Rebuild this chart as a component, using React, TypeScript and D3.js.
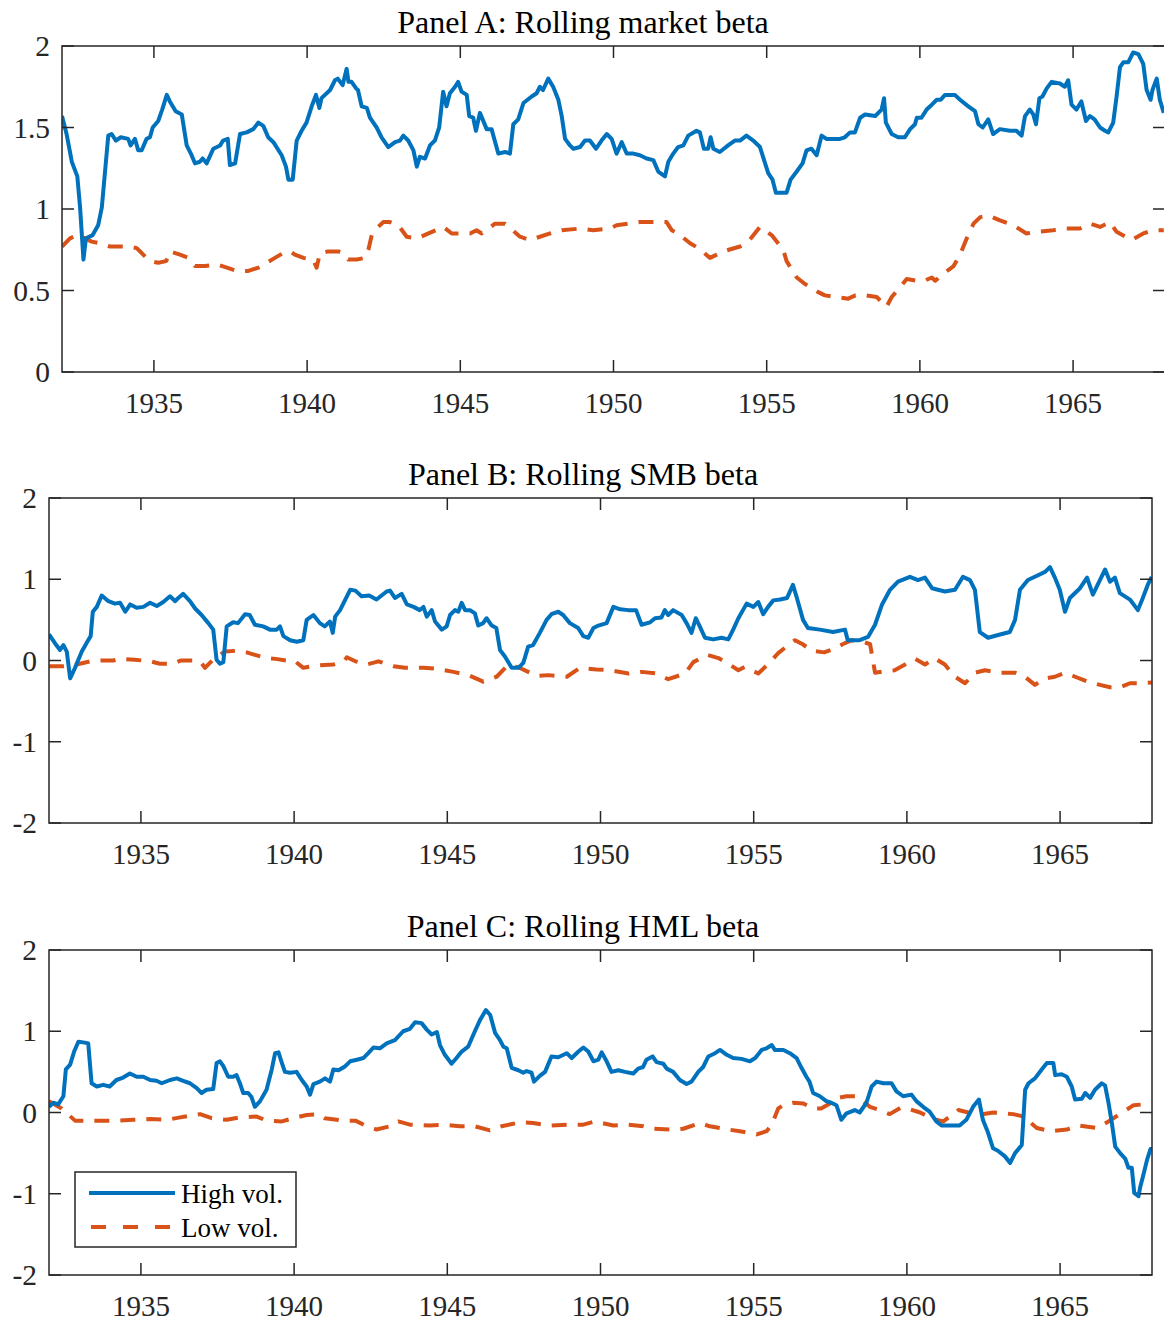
import React from 'react';
import * as d3 from 'd3';

type Pt = [number, number];

// ---- data (year, beta) ----
const xTicks = [1935, 1940, 1945, 1950, 1955, 1960, 1965];
const mktTicks = [0, 0.5, 1, 1.5, 2];
const factorTicks = [-2, -1, 0, 1, 2];
const panelTitles = ['Panel A: Rolling market beta', 'Panel B: Rolling SMB beta', 'Panel C: Rolling HML beta'];
const legendLabels = ['High vol.', 'Low vol.'];

const mktHigh: Pt[] = [
  [1932.0, 1.57], [1932.15, 1.46], [1932.32, 1.29], [1932.5, 1.2], [1932.59, 1.01], [1932.7, 0.69], [1932.78, 0.82],
  [1933.0, 0.84], [1933.18, 0.9], [1933.3, 1.01], [1933.4, 1.22], [1933.51, 1.45], [1933.62, 1.46], [1933.76, 1.42],
  [1933.92, 1.44], [1934.16, 1.43], [1934.24, 1.39], [1934.38, 1.43], [1934.49, 1.36], [1934.6, 1.36], [1934.76, 1.43],
  [1934.87, 1.44], [1934.96, 1.5], [1935.14, 1.54], [1935.27, 1.61], [1935.42, 1.7], [1935.52, 1.66], [1935.71, 1.6],
  [1935.91, 1.58], [1936.07, 1.39], [1936.23, 1.33], [1936.34, 1.28], [1936.5, 1.29], [1936.59, 1.31], [1936.72, 1.28],
  [1936.94, 1.37], [1937.16, 1.39], [1937.26, 1.42], [1937.41, 1.43], [1937.48, 1.27], [1937.65, 1.28], [1937.81, 1.46],
  [1938.03, 1.47], [1938.24, 1.49], [1938.41, 1.53], [1938.57, 1.51], [1938.73, 1.44], [1938.9, 1.41], [1939.17, 1.33],
  [1939.31, 1.26], [1939.39, 1.18], [1939.53, 1.18], [1939.66, 1.42], [1939.82, 1.48], [1939.98, 1.53], [1940.15, 1.63],
  [1940.29, 1.7], [1940.4, 1.62], [1940.47, 1.68], [1940.75, 1.73], [1940.91, 1.79], [1941.0, 1.8], [1941.16, 1.76],
  [1941.29, 1.86], [1941.35, 1.78], [1941.45, 1.78], [1941.6, 1.74], [1941.66, 1.73], [1941.78, 1.63], [1941.95, 1.62],
  [1942.05, 1.56], [1942.27, 1.5], [1942.43, 1.44], [1942.65, 1.38], [1942.87, 1.41], [1943.03, 1.42], [1943.14, 1.45],
  [1943.3, 1.42], [1943.47, 1.36], [1943.58, 1.26], [1943.68, 1.32], [1943.85, 1.31], [1944.01, 1.39], [1944.17, 1.42],
  [1944.31, 1.5], [1944.44, 1.72], [1944.55, 1.63], [1944.66, 1.71], [1944.83, 1.75], [1944.93, 1.78], [1945.04, 1.72],
  [1945.21, 1.7], [1945.29, 1.57], [1945.42, 1.56], [1945.51, 1.48], [1945.64, 1.59], [1945.86, 1.49], [1946.02, 1.49],
  [1946.24, 1.34], [1946.46, 1.35], [1946.62, 1.34], [1946.73, 1.52], [1946.89, 1.55], [1947.06, 1.65], [1947.33, 1.69],
  [1947.49, 1.71], [1947.6, 1.75], [1947.7, 1.73], [1947.87, 1.8], [1948.03, 1.75], [1948.2, 1.67], [1948.31, 1.57],
  [1948.42, 1.43], [1948.58, 1.39], [1948.69, 1.37], [1948.91, 1.38], [1949.07, 1.42], [1949.23, 1.42], [1949.43, 1.37],
  [1949.61, 1.42], [1949.78, 1.46], [1949.94, 1.43], [1950.1, 1.34], [1950.27, 1.41], [1950.43, 1.34], [1950.65, 1.34],
  [1950.86, 1.33], [1951.08, 1.31], [1951.3, 1.3], [1951.46, 1.23], [1951.68, 1.2], [1951.79, 1.29], [1951.95, 1.34],
  [1952.11, 1.38], [1952.28, 1.39], [1952.44, 1.45], [1952.71, 1.48], [1952.82, 1.47], [1952.95, 1.37], [1953.09, 1.37],
  [1953.17, 1.44], [1953.26, 1.37], [1953.47, 1.35], [1953.74, 1.39], [1953.96, 1.42], [1954.13, 1.42], [1954.34, 1.45],
  [1954.56, 1.42], [1954.78, 1.38], [1955.05, 1.22], [1955.19, 1.18], [1955.3, 1.1], [1955.65, 1.1], [1955.78, 1.18],
  [1955.98, 1.23], [1956.17, 1.28], [1956.3, 1.36], [1956.46, 1.37], [1956.63, 1.33], [1956.79, 1.45], [1956.95, 1.43],
  [1957.39, 1.43], [1957.55, 1.44], [1957.72, 1.47], [1957.88, 1.47], [1958.05, 1.56], [1958.21, 1.58], [1958.54, 1.57],
  [1958.75, 1.61], [1958.83, 1.68], [1958.89, 1.53], [1959.08, 1.46], [1959.29, 1.44], [1959.51, 1.44], [1959.68, 1.49],
  [1959.84, 1.52], [1959.9, 1.56], [1960.05, 1.56], [1960.22, 1.61], [1960.39, 1.64], [1960.55, 1.67], [1960.68, 1.67],
  [1960.82, 1.7], [1961.14, 1.7], [1961.31, 1.67], [1961.58, 1.63], [1961.8, 1.6], [1961.91, 1.52], [1962.05, 1.5],
  [1962.23, 1.55], [1962.39, 1.46], [1962.61, 1.49], [1962.94, 1.48], [1963.15, 1.48], [1963.32, 1.45], [1963.43, 1.57],
  [1963.59, 1.61], [1963.7, 1.58], [1963.79, 1.52], [1963.9, 1.68], [1964.0, 1.69], [1964.14, 1.74], [1964.3, 1.78],
  [1964.57, 1.77], [1964.73, 1.75], [1964.84, 1.79], [1964.95, 1.64], [1965.11, 1.61], [1965.27, 1.66], [1965.42, 1.54],
  [1965.55, 1.57], [1965.7, 1.55], [1965.88, 1.5], [1966.04, 1.48], [1966.15, 1.47], [1966.31, 1.53], [1966.42, 1.69],
  [1966.53, 1.87], [1966.64, 1.9], [1966.8, 1.9], [1966.96, 1.96], [1967.13, 1.95], [1967.29, 1.89], [1967.4, 1.73],
  [1967.53, 1.67], [1967.59, 1.73], [1967.73, 1.8], [1967.83, 1.67], [1967.96, 1.59],
];

const mktLow: Pt[] = [
  [1932.0, 0.77], [1932.26, 0.82], [1932.5, 0.84], [1932.75, 0.82], [1932.97, 0.8], [1933.24, 0.79], [1933.57, 0.77],
  [1933.89, 0.77], [1934.15, 0.77], [1934.44, 0.76], [1934.65, 0.72], [1934.87, 0.68], [1935.14, 0.67], [1935.4, 0.68],
  [1935.52, 0.74], [1935.85, 0.72], [1936.12, 0.7], [1936.34, 0.65], [1936.67, 0.65], [1937.05, 0.66], [1937.38, 0.64],
  [1937.7, 0.62], [1938.08, 0.62], [1938.41, 0.64], [1938.68, 0.67], [1938.95, 0.7], [1939.22, 0.73], [1939.44, 0.74],
  [1939.6, 0.72], [1939.88, 0.7], [1940.2, 0.69], [1940.31, 0.64], [1940.42, 0.73], [1940.69, 0.74], [1941.02, 0.74],
  [1941.18, 0.73], [1941.34, 0.69], [1941.62, 0.69], [1941.89, 0.7], [1942.0, 0.75], [1942.11, 0.84], [1942.32, 0.89],
  [1942.49, 0.92], [1942.7, 0.92], [1942.98, 0.9], [1943.25, 0.83], [1943.58, 0.82], [1943.96, 0.85], [1944.45, 0.89],
  [1944.72, 0.85], [1945.32, 0.85], [1945.53, 0.87], [1945.7, 0.85], [1946.13, 0.91], [1946.46, 0.91], [1946.95, 0.83],
  [1947.27, 0.81], [1947.93, 0.85], [1948.31, 0.87], [1948.91, 0.88], [1949.34, 0.87], [1949.88, 0.88], [1950.1, 0.9],
  [1950.86, 0.92], [1951.3, 0.92], [1951.73, 0.92], [1951.9, 0.87], [1952.1, 0.85], [1952.5, 0.79], [1952.77, 0.76],
  [1953.15, 0.7], [1953.37, 0.72], [1953.58, 0.74], [1954.13, 0.77], [1954.4, 0.8], [1954.78, 0.89], [1955.16, 0.84],
  [1955.54, 0.75], [1955.65, 0.68], [1955.98, 0.58], [1956.25, 0.54], [1956.68, 0.49], [1956.9, 0.47], [1957.28, 0.46],
  [1957.66, 0.45], [1957.9, 0.47], [1958.26, 0.47], [1958.59, 0.46], [1958.91, 0.4], [1959.08, 0.46], [1959.35, 0.52],
  [1959.57, 0.57], [1959.9, 0.56], [1960.15, 0.56], [1960.39, 0.58], [1960.5, 0.56], [1960.82, 0.61], [1961.1, 0.65],
  [1961.31, 0.72], [1961.53, 0.82], [1961.75, 0.91], [1961.97, 0.95], [1962.24, 0.96], [1962.61, 0.93], [1963.05, 0.9],
  [1963.48, 0.85], [1963.81, 0.86], [1964.35, 0.87], [1964.79, 0.88], [1965.22, 0.88], [1965.55, 0.91], [1965.88, 0.89],
  [1966.2, 0.92], [1966.42, 0.86], [1966.91, 0.81], [1967.29, 0.85], [1967.62, 0.87], [1967.96, 0.87],
];

const smbHigh: Pt[] = [
  [1932.0, 0.32], [1932.2, 0.21], [1932.36, 0.13], [1932.47, 0.19], [1932.58, 0.11], [1932.69, -0.22], [1932.85, -0.09],
  [1933.07, 0.11], [1933.25, 0.23], [1933.36, 0.3], [1933.43, 0.6], [1933.56, 0.66], [1933.72, 0.8], [1933.94, 0.73],
  [1934.15, 0.7], [1934.32, 0.71], [1934.49, 0.6], [1934.65, 0.69], [1934.86, 0.65], [1935.08, 0.66], [1935.3, 0.71],
  [1935.52, 0.67], [1935.73, 0.72], [1935.95, 0.79], [1936.12, 0.73], [1936.22, 0.77], [1936.38, 0.82], [1936.6, 0.73],
  [1936.77, 0.64], [1936.98, 0.56], [1937.2, 0.46], [1937.36, 0.38], [1937.47, 0.01], [1937.58, -0.04], [1937.69, -0.02],
  [1937.8, 0.42], [1938.01, 0.47], [1938.17, 0.46], [1938.4, 0.57], [1938.55, 0.56], [1938.72, 0.44], [1938.99, 0.42],
  [1939.21, 0.38], [1939.43, 0.38], [1939.54, 0.42], [1939.65, 0.3], [1939.87, 0.25], [1940.09, 0.23], [1940.3, 0.25],
  [1940.41, 0.5], [1940.63, 0.56], [1940.84, 0.46], [1941.0, 0.42], [1941.17, 0.48], [1941.26, 0.34], [1941.34, 0.54],
  [1941.5, 0.62], [1941.67, 0.75], [1941.83, 0.87], [1942.0, 0.86], [1942.2, 0.79], [1942.45, 0.8], [1942.69, 0.75],
  [1943.02, 0.85], [1943.13, 0.86], [1943.29, 0.77], [1943.51, 0.82], [1943.68, 0.69], [1943.9, 0.66], [1944.1, 0.62],
  [1944.22, 0.66], [1944.33, 0.54], [1944.49, 0.62], [1944.6, 0.48], [1944.82, 0.38], [1944.98, 0.42], [1945.09, 0.56],
  [1945.25, 0.62], [1945.36, 0.6], [1945.47, 0.71], [1945.58, 0.62], [1945.74, 0.62], [1945.9, 0.58], [1946.01, 0.43],
  [1946.17, 0.46], [1946.28, 0.52], [1946.45, 0.43], [1946.6, 0.4], [1946.72, 0.13], [1946.88, 0.05], [1947.1, -0.09],
  [1947.32, -0.09], [1947.48, -0.03], [1947.64, 0.17], [1947.8, 0.19], [1948.02, 0.34], [1948.24, 0.5], [1948.4, 0.57],
  [1948.62, 0.6], [1948.78, 0.56], [1949.0, 0.46], [1949.27, 0.4], [1949.44, 0.3], [1949.6, 0.28], [1949.77, 0.4],
  [1949.93, 0.43], [1950.2, 0.46], [1950.42, 0.66], [1950.64, 0.63], [1950.91, 0.62], [1951.16, 0.62], [1951.34, 0.44],
  [1951.62, 0.47], [1951.78, 0.52], [1951.99, 0.53], [1952.1, 0.62], [1952.21, 0.56], [1952.37, 0.62], [1952.65, 0.56],
  [1952.81, 0.46], [1952.97, 0.34], [1953.11, 0.52], [1953.24, 0.42], [1953.41, 0.28], [1953.68, 0.26], [1953.95, 0.28],
  [1954.17, 0.26], [1954.33, 0.38], [1954.5, 0.52], [1954.77, 0.7], [1954.99, 0.66], [1955.15, 0.72], [1955.31, 0.57],
  [1955.47, 0.66], [1955.64, 0.74], [1955.86, 0.75], [1956.09, 0.77], [1956.28, 0.93], [1956.41, 0.77], [1956.61, 0.5],
  [1956.77, 0.4], [1957.16, 0.38], [1957.59, 0.35], [1957.98, 0.38], [1958.07, 0.25], [1958.46, 0.25], [1958.73, 0.29],
  [1958.96, 0.44], [1959.19, 0.69], [1959.45, 0.87], [1959.71, 0.97], [1960.1, 1.03], [1960.36, 0.99], [1960.59, 1.02],
  [1960.82, 0.89], [1961.24, 0.85], [1961.57, 0.87], [1961.83, 1.03], [1962.06, 0.99], [1962.22, 0.87], [1962.38, 0.35],
  [1962.65, 0.28], [1963.04, 0.32], [1963.36, 0.35], [1963.53, 0.5], [1963.69, 0.87], [1963.95, 0.99], [1964.28, 1.05],
  [1964.51, 1.09], [1964.67, 1.15], [1964.83, 1.02], [1964.99, 0.87], [1965.16, 0.6], [1965.32, 0.77], [1965.65, 0.89],
  [1965.88, 1.02], [1966.07, 0.81], [1966.3, 0.99], [1966.47, 1.12], [1966.63, 0.97], [1966.79, 1.02], [1966.95, 0.83],
  [1967.28, 0.75], [1967.54, 0.62], [1967.7, 0.77], [1967.86, 0.93], [1967.99, 1.03],
];

const smbLow: Pt[] = [
  [1932.0, -0.07], [1932.47, -0.07], [1932.9, -0.05], [1933.34, -0.01], [1933.7, 0.0], [1934.1, 0.0], [1934.32, 0.02],
  [1934.8, 0.01], [1935.3, -0.01], [1935.62, -0.04], [1936.06, -0.04], [1936.3, 0.0], [1936.71, 0.0], [1936.93, -0.01],
  [1937.09, -0.09], [1937.25, -0.03], [1937.47, 0.05], [1937.75, 0.11], [1938.13, 0.12], [1938.45, 0.1], [1938.72, 0.07],
  [1939.1, 0.03], [1939.4, 0.02], [1939.75, 0.0], [1940.0, 0.0], [1940.3, -0.09], [1940.74, -0.06], [1941.28, -0.05],
  [1941.65, 0.0], [1941.72, 0.04], [1942.0, -0.01], [1942.37, -0.05], [1942.75, -0.01], [1943.24, -0.07], [1943.62, -0.09],
  [1944.22, -0.09], [1944.6, -0.1], [1945.2, -0.14], [1945.69, -0.18], [1946.17, -0.26], [1946.61, -0.2], [1946.94, -0.07],
  [1947.3, -0.08], [1947.92, -0.19], [1948.3, -0.18], [1948.9, -0.2], [1949.33, -0.09], [1949.87, -0.11], [1950.31, -0.12],
  [1950.91, -0.16], [1951.34, -0.14], [1951.83, -0.16], [1952.21, -0.23], [1952.76, -0.16], [1953.03, -0.02], [1953.47, 0.07],
  [1953.85, 0.03], [1954.17, -0.04], [1954.5, -0.12], [1954.7, -0.08], [1955.15, -0.16], [1955.48, -0.04], [1955.8, 0.09],
  [1956.1, 0.18], [1956.35, 0.25], [1956.6, 0.2], [1956.9, 0.12], [1957.3, 0.1], [1957.6, 0.14], [1957.9, 0.2],
  [1958.2, 0.25], [1958.5, 0.24], [1958.8, 0.2], [1958.96, -0.15], [1959.3, -0.13], [1959.6, -0.12], [1959.94, -0.05],
  [1960.27, 0.02], [1960.59, -0.05], [1960.9, 0.03], [1961.24, -0.05], [1961.57, -0.2], [1961.9, -0.28], [1962.22, -0.15],
  [1962.55, -0.12], [1963.04, -0.15], [1963.53, -0.15], [1963.85, -0.2], [1964.18, -0.3], [1964.51, -0.22], [1964.83, -0.2],
  [1965.16, -0.15], [1965.49, -0.2], [1965.97, -0.27], [1966.3, -0.3], [1966.63, -0.33], [1966.95, -0.33], [1967.28, -0.28],
  [1967.6, -0.28], [1967.99, -0.27],
];

const hmlHigh: Pt[] = [
  [1932.0, 0.07], [1932.14, 0.12], [1932.3, 0.1], [1932.47, 0.2], [1932.55, 0.53], [1932.69, 0.59], [1932.82, 0.75],
  [1932.96, 0.87], [1933.17, 0.86], [1933.28, 0.85], [1933.39, 0.36], [1933.56, 0.32], [1933.77, 0.34], [1933.98, 0.32],
  [1934.2, 0.4], [1934.42, 0.43], [1934.64, 0.48], [1934.86, 0.44], [1935.08, 0.44], [1935.3, 0.4], [1935.51, 0.39],
  [1935.68, 0.36], [1935.95, 0.4], [1936.17, 0.42], [1936.38, 0.39], [1936.6, 0.36], [1936.82, 0.3], [1936.98, 0.24],
  [1937.14, 0.28], [1937.36, 0.29], [1937.47, 0.61], [1937.58, 0.63], [1937.69, 0.57], [1937.85, 0.44], [1938.01, 0.44],
  [1938.12, 0.46], [1938.23, 0.36], [1938.34, 0.24], [1938.5, 0.24], [1938.61, 0.19], [1938.72, 0.07], [1938.89, 0.14],
  [1939.1, 0.28], [1939.27, 0.53], [1939.38, 0.73], [1939.49, 0.74], [1939.6, 0.61], [1939.7, 0.5], [1939.87, 0.49],
  [1940.08, 0.5], [1940.25, 0.4], [1940.41, 0.32], [1940.52, 0.22], [1940.63, 0.35], [1940.84, 0.38], [1941.01, 0.42],
  [1941.17, 0.38], [1941.28, 0.53], [1941.45, 0.52], [1941.67, 0.57], [1941.83, 0.63], [1942.05, 0.65], [1942.26, 0.67],
  [1942.42, 0.73], [1942.59, 0.8], [1942.8, 0.79], [1943.02, 0.85], [1943.29, 0.89], [1943.56, 1.0], [1943.78, 1.03],
  [1943.95, 1.11], [1944.16, 1.1], [1944.33, 1.02], [1944.49, 0.96], [1944.66, 0.99], [1944.76, 0.83], [1944.92, 0.71],
  [1945.14, 0.6], [1945.3, 0.67], [1945.47, 0.75], [1945.68, 0.81], [1945.9, 1.0], [1946.07, 1.14], [1946.26, 1.26],
  [1946.4, 1.2], [1946.56, 0.98], [1946.72, 0.89], [1946.83, 0.81], [1946.94, 0.79], [1947.1, 0.55], [1947.32, 0.52],
  [1947.48, 0.49], [1947.59, 0.51], [1947.75, 0.49], [1947.83, 0.38], [1948.02, 0.45], [1948.19, 0.5], [1948.4, 0.69],
  [1948.62, 0.68], [1948.9, 0.73], [1949.06, 0.67], [1949.28, 0.75], [1949.44, 0.8], [1949.6, 0.75], [1949.77, 0.63],
  [1949.93, 0.65], [1950.04, 0.74], [1950.2, 0.63], [1950.36, 0.5], [1950.58, 0.52], [1950.8, 0.5], [1951.07, 0.48],
  [1951.23, 0.54], [1951.39, 0.56], [1951.5, 0.65], [1951.7, 0.69], [1951.83, 0.62], [1952.05, 0.6], [1952.16, 0.54],
  [1952.37, 0.5], [1952.59, 0.4], [1952.81, 0.35], [1952.97, 0.38], [1953.19, 0.5], [1953.35, 0.56], [1953.52, 0.69],
  [1953.74, 0.73], [1953.9, 0.77], [1954.12, 0.71], [1954.33, 0.67], [1954.6, 0.66], [1954.88, 0.63], [1955.05, 0.67],
  [1955.26, 0.77], [1955.42, 0.79], [1955.59, 0.83], [1955.69, 0.77], [1955.97, 0.77], [1956.18, 0.73], [1956.4, 0.67],
  [1956.56, 0.55], [1956.72, 0.44], [1956.82, 0.38], [1956.94, 0.24], [1957.16, 0.2], [1957.37, 0.14], [1957.53, 0.12],
  [1957.7, 0.09], [1957.86, -0.09], [1958.03, -0.01], [1958.3, 0.03], [1958.46, 0.0], [1958.68, 0.12], [1958.85, 0.32],
  [1959.01, 0.38], [1959.23, 0.36], [1959.5, 0.36], [1959.66, 0.26], [1959.88, 0.2], [1960.15, 0.22], [1960.31, 0.14],
  [1960.53, 0.07], [1960.74, 0.01], [1960.96, -0.11], [1961.13, -0.16], [1961.45, -0.16], [1961.72, -0.16], [1961.94, -0.09],
  [1962.16, 0.07], [1962.35, 0.16], [1962.48, -0.09], [1962.65, -0.25], [1962.81, -0.44], [1962.97, -0.47], [1963.2, -0.54],
  [1963.37, -0.62], [1963.53, -0.5], [1963.75, -0.4], [1963.86, 0.28], [1963.97, 0.36], [1964.18, 0.42], [1964.4, 0.53],
  [1964.57, 0.61], [1964.78, 0.61], [1964.84, 0.46], [1965.05, 0.47], [1965.22, 0.44], [1965.38, 0.32], [1965.49, 0.16],
  [1965.71, 0.17], [1965.82, 0.24], [1965.98, 0.18], [1966.14, 0.28], [1966.36, 0.36], [1966.47, 0.33], [1966.58, 0.12],
  [1966.69, -0.13], [1966.8, -0.42], [1966.96, -0.5], [1967.13, -0.57], [1967.23, -0.68], [1967.34, -0.68], [1967.42, -0.99],
  [1967.56, -1.03], [1967.62, -0.91], [1967.73, -0.75], [1967.84, -0.58], [1967.95, -0.45], [1968.0, -0.45],
];

const hmlLow: Pt[] = [
  [1932.0, 0.14], [1932.41, 0.05], [1932.85, -0.1], [1933.34, -0.1], [1933.8, -0.1], [1934.2, -0.1], [1934.75, -0.09],
  [1935.3, -0.08], [1935.85, -0.09], [1936.28, -0.06], [1936.6, -0.04], [1936.93, -0.02], [1937.31, -0.07], [1937.8, -0.09],
  [1938.23, -0.06], [1938.78, -0.05], [1939.1, -0.1], [1939.6, -0.11], [1939.97, -0.07], [1940.41, -0.03], [1940.79, -0.02],
  [1941.0, -0.07], [1941.6, -0.1], [1942.0, -0.1], [1942.37, -0.17], [1942.69, -0.21], [1943.13, -0.17], [1943.4, -0.11],
  [1943.78, -0.15], [1944.43, -0.16], [1944.9, -0.15], [1945.41, -0.17], [1945.9, -0.17], [1946.39, -0.22], [1946.77, -0.17],
  [1947.37, -0.12], [1947.8, -0.13], [1948.35, -0.16], [1948.9, -0.15], [1949.44, -0.15], [1949.82, -0.11], [1950.42, -0.16],
  [1950.9, -0.15], [1951.4, -0.17], [1951.72, -0.2], [1952.37, -0.21], [1952.7, -0.2], [1953.25, -0.13], [1953.57, -0.17],
  [1954.17, -0.21], [1954.55, -0.23], [1955.1, -0.27], [1955.42, -0.23], [1955.59, -0.15], [1955.8, 0.05], [1955.97, 0.09],
  [1956.29, 0.12], [1956.62, 0.11], [1956.94, 0.05], [1957.2, 0.05], [1957.49, 0.11], [1957.76, 0.18], [1958.03, 0.2],
  [1958.36, 0.2], [1958.57, 0.14], [1958.79, 0.07], [1959.12, 0.03], [1959.44, -0.02], [1959.8, 0.06], [1960.1, 0.04],
  [1960.43, 0.0], [1960.86, -0.08], [1961.19, -0.11], [1961.68, 0.03], [1962.0, 0.0], [1962.28, -0.03], [1962.82, 0.0],
  [1963.47, -0.02], [1963.8, -0.05], [1964.24, -0.19], [1964.67, -0.23], [1965.22, -0.21], [1965.6, -0.16], [1966.2, -0.19],
  [1966.58, -0.11], [1967.07, 0.01], [1967.4, 0.09], [1967.73, 0.1], [1967.96, 0.06],
];

// ---- styling ----
const BLUE = '#0072BD';
const RED = '#D95319';
const AXIS = '#262626';
const FONT = '"Liberation Serif", "Times New Roman", Times, serif';
const PLOT_W = 1103;
const TICK = 12;
const DASH = '15 11';

const panels = [
  { id: 'a', title: panelTitles[0], high: mktHigh, low: mktLow, yDomain: [0, 2], yTicks: mktTicks, left: 62, top: 46, bottom: 372, legend: false },
  { id: 'b', title: panelTitles[1], high: smbHigh, low: smbLow, yDomain: [-2, 2], yTicks: factorTicks, left: 49, top: 498, bottom: 823, legend: false },
  { id: 'c', title: panelTitles[2], high: hmlHigh, low: hmlLow, yDomain: [-2, 2], yTicks: factorTicks, left: 49, top: 950, bottom: 1275, legend: true },
];

function Panel({ p }: { p: (typeof panels)[number] }) {
  const right = p.left + PLOT_W;
  const x = d3.scaleLinear().domain([1932, 1968]).range([p.left, right]);
  const y = d3.scaleLinear().domain(p.yDomain).range([p.bottom, p.top]);
  const line = d3
    .line<Pt>()
    .x((d) => x(d[0]))
    .y((d) => y(d[1]));
  const clipId = `clip-${p.id}`;

  return (
    <g>
      <defs>
        <clipPath id={clipId}>
          <rect x={p.left} y={p.top} width={PLOT_W} height={p.bottom - p.top} />
        </clipPath>
      </defs>
      <text x={583} y={p.top - 13} textAnchor="middle" fontSize={32} fill="#000">
        {p.title}
      </text>

      <g clipPath={`url(#${clipId})`} fill="none" strokeWidth={4} strokeLinejoin="round">
        <path d={line(p.low) || ''} stroke={RED} strokeDasharray={DASH} />
        <path d={line(p.high) || ''} stroke={BLUE} />
      </g>

      {/* box + inward ticks */}
      <rect x={p.left} y={p.top} width={PLOT_W} height={p.bottom - p.top} fill="none" stroke={AXIS} strokeWidth={1.5} />
      {xTicks.map((t) => (
        <g key={`x${t}`} stroke={AXIS} strokeWidth={1.5}>
          <line x1={x(t)} x2={x(t)} y1={p.bottom} y2={p.bottom - TICK} />
          <line x1={x(t)} x2={x(t)} y1={p.top} y2={p.top + TICK} />
        </g>
      ))}
      {p.yTicks.map((t) => (
        <g key={`y${t}`} stroke={AXIS} strokeWidth={1.5}>
          <line x1={p.left} x2={p.left + TICK} y1={y(t)} y2={y(t)} />
          <line x1={right} x2={right - TICK} y1={y(t)} y2={y(t)} />
        </g>
      ))}
      {xTicks.map((t) => (
        <text key={`xl${t}`} x={x(t)} y={p.bottom + 41} textAnchor="middle" fontSize={29} fill={AXIS}>
          {t}
        </text>
      ))}
      {p.yTicks.map((t) => (
        <text key={`yl${t}`} x={p.left - 12} y={y(t) + 10} textAnchor="end" fontSize={29.5} fill={AXIS}>
          {String(t)}
        </text>
      ))}

      {p.legend && (
        <g>
          <rect x={75} y={1172} width={221} height={75} fill="#fff" stroke={AXIS} strokeWidth={1.5} />
          <line x1={89} x2={175} y1={1193} y2={1193} stroke={BLUE} strokeWidth={4} />
          <line x1={91} x2={171} y1={1227} y2={1227} stroke={RED} strokeWidth={4} strokeDasharray="15 17" />
          <text x={181} y={1203} fontSize={27} fill="#000">{legendLabels[0]}</text>
          <text x={181} y={1237} fontSize={27} fill="#000">{legendLabels[1]}</text>
        </g>
      )}
    </g>
  );
}

export default function App() {
  return (
    <svg
      width={1164}
      height={1323}
      style={{ position: 'absolute', left: 0, top: 0, background: '#fff' }}
      fontFamily={FONT}
    >
      {panels.map((p) => (
        <Panel key={p.id} p={p} />
      ))}
    </svg>
  );
}
